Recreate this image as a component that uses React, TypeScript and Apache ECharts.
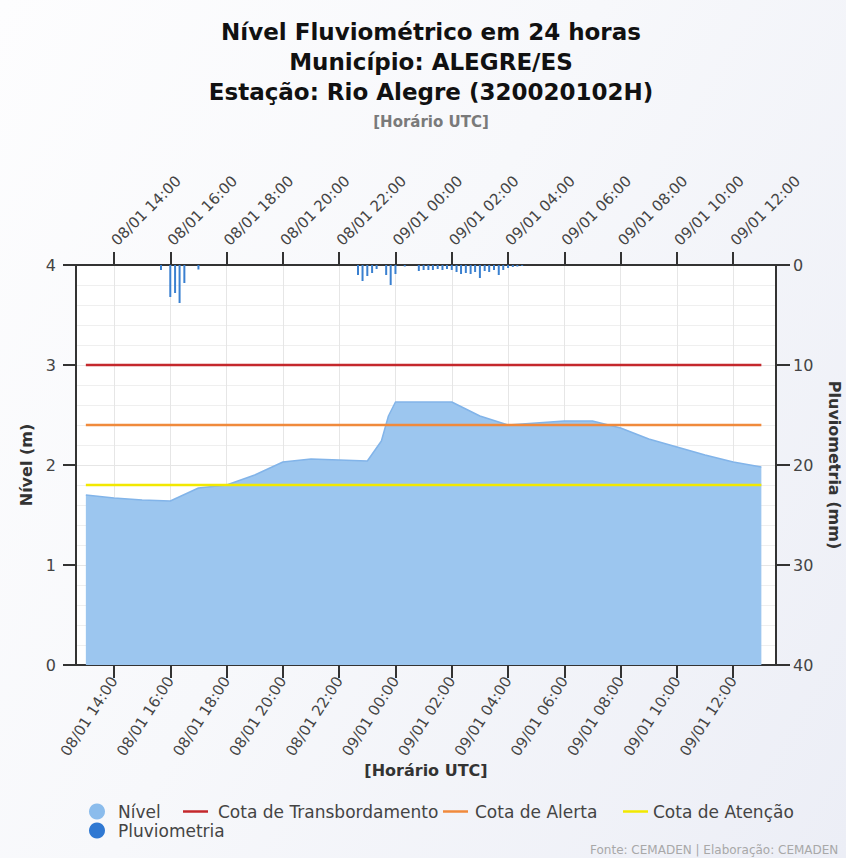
import React, { useEffect, useRef } from 'react';
import * as echarts from 'echarts';

// Time in hours counted from 08/01 00:00 (UTC)
const levelTimes = [13, 14, 15, 16, 17, 18, 19, 20, 21, 22, 23, 23.25, 23.5, 23.75, 24, 25, 26, 27, 28, 29, 30, 31, 32, 33, 34, 35, 36, 37];
const levelValues = [1.70, 1.67, 1.65, 1.64, 1.77, 1.80, 1.90, 2.03, 2.06, 2.05, 2.04, 2.14, 2.24, 2.49, 2.63, 2.63, 2.63, 2.49, 2.40, 2.42, 2.44, 2.44, 2.37, 2.26, 2.18, 2.10, 2.03, 1.98];

const rainTimes = [15.67, 16.0, 16.17, 16.33, 16.5, 17.0, 22.67, 22.83, 23.0, 23.17, 23.33, 23.67, 23.83, 24.0, 24.33, 24.83, 25.0, 25.17, 25.33, 25.5, 25.67, 25.83, 26.0, 26.17, 26.33, 26.5, 26.67, 26.83, 27.0, 27.17, 27.33, 27.5, 27.67, 27.83, 28.0, 28.17, 28.33, 28.5];
const rainValues = [0.5, 3.2, 2.8, 3.8, 1.8, 0.45, 1.0, 1.6, 1.1, 0.8, 0.4, 1.0, 2.0, 0.9, 0.15, 0.6, 0.5, 0.5, 0.5, 0.4, 0.5, 0.4, 0.5, 0.7, 0.9, 0.8, 0.9, 0.7, 1.3, 0.6, 0.7, 0.5, 1.0, 0.5, 0.3, 0.2, 0.15, 0.1];

const thresholdNames = ['Cota de Transbordamento', 'Cota de Alerta', 'Cota de Atenção'];
const thresholdValues = [3.0, 2.4, 1.8];
const thresholdColors = ['#c4282c', '#f08a3c', '#f2e800'];
const thresholdSpan = [13, 37];

const xTickHours = [14, 16, 18, 20, 22, 24, 26, 28, 30, 32, 34, 36];
const xMin = 12.65;
const xMax = 37.52;

const titleLines = ['Nível Fluviométrico em 24 horas', 'Município: ALEGRE/ES', 'Estação: Rio Alegre (320020102H)'];
const subTitle = '[Horário UTC]';
const xAxisTitle = '[Horário UTC]';
const footer = 'Fonte: CEMADEN | Elaboração: CEMADEN';

const FONT = 'DejaVu Sans';

function fmtHour(h: number): string {
  const day = h < 24 ? '08/01' : '09/01';
  const hh = Math.round(h % 24);
  return `${day} ${String(hh).padStart(2, '0')}:00`;
}

export default function App() {
  const ref = useRef<HTMLDivElement>(null);

  useEffect(() => {
    if (!ref.current) return;
    const chart = echarts.init(ref.current, undefined, { renderer: 'svg' });

    const xCommon = {
      type: 'value',
      min: xMin,
      max: xMax,
      axisLine: { show: true, onZero: false, lineStyle: { color: '#333', width: 2 } },
      axisTick: { show: true, length: 13, customValues: xTickHours, lineStyle: { color: '#333', width: 2 } },
    };
    const labelCommon = {
      customValues: xTickHours,
      fontSize: 15,
      fontFamily: FONT,
      color: '#444',
      formatter: (v: number) => fmtHour(v),
    };

    const legendText = { fontFamily: FONT, fontSize: 17, lineHeight: 17, color: '#444' };

    const option: any = {
      animation: false,
      backgroundColor: 'transparent',
      title: {
        text: titleLines.join('\n'),
        subtext: subTitle,
        left: 426,
        textAlign: 'center',
        top: 12,
        itemGap: 6,
        textStyle: { fontFamily: FONT, fontSize: 23, fontWeight: 'bold', color: '#111', lineHeight: 30 },
        subtextStyle: { fontFamily: FONT, fontSize: 15, fontWeight: 'bold', color: '#7a7a7a', lineHeight: 18 },
      },
      grid: {
        left: 76, right: 70, top: 265, bottom: 193,
        containLabel: false, outerBoundsMode: 'none',
        show: true, backgroundColor: '#ffffff', borderWidth: 0,
      },
      xAxis: [
        {
          ...xCommon,
          position: 'bottom',
          name: xAxisTitle,
          nameLocation: 'middle',
          nameGap: 93,
          nameTextStyle: { fontFamily: FONT, fontSize: 16, fontWeight: 'bold', color: '#333', verticalAlign: 'top' },
          axisLabel: { ...labelCommon, rotate: 57, margin: 13 },
          splitLine: { show: true, lineStyle: { color: '#e6e6e6', width: 1 } },
        },
        {
          ...xCommon,
          position: 'top',
          axisLabel: { ...labelCommon, rotate: -45, margin: 22 },
          splitLine: { show: false },
        },
      ],
      yAxis: [
        {
          type: 'value',
          min: 0,
          max: 4,
          interval: 1,
          position: 'left',
          name: 'Nível (m)',
          nameLocation: 'middle',
          nameGap: 42,
          nameTextStyle: { fontFamily: FONT, fontSize: 16, fontWeight: 'bold', color: '#333' },
          axisLine: { show: true, onZero: false, lineStyle: { color: '#333', width: 2 } },
          axisTick: { show: true, length: 13, lineStyle: { color: '#333', width: 2 } },
          axisLabel: { fontSize: 16, fontFamily: FONT, color: '#444', margin: 20 },
          splitLine: { show: true, lineStyle: { color: '#e6e6e6', width: 1 } },
          minorTick: { show: false, splitNumber: 5 },
          minorSplitLine: { show: true, lineStyle: { color: '#efefef', width: 1 } },
        },
        {
          type: 'value',
          min: 0,
          max: 40,
          interval: 10,
          inverse: true,
          position: 'right',
          name: 'Pluviometria (mm)',
          nameLocation: 'middle',
          nameRotate: -90,
          nameGap: 50,
          nameTextStyle: { fontFamily: FONT, fontSize: 16, fontWeight: 'bold', color: '#333' },
          axisLine: { show: true, onZero: false, lineStyle: { color: '#333', width: 2 } },
          axisTick: { show: true, length: 14, lineStyle: { color: '#333', width: 2 } },
          axisLabel: { fontSize: 16, fontFamily: FONT, color: '#444', margin: 17 },
          splitLine: { show: false },
        },
      ],
      legend: [
        {
          data: [{ name: 'Nível', icon: 'circle', itemStyle: { color: '#8bbcec' } }],
          left: 89, top: 803, padding: 0, itemWidth: 16, itemHeight: 16, selectedMode: false,
          textStyle: { ...legendText, padding: [0, 0, 0, 8] },
        },
        {
          data: [{ name: 'Pluviometria', icon: 'circle', itemStyle: { color: '#2f78d2' } }],
          left: 89, top: 822, padding: 0, itemWidth: 16, itemHeight: 16, selectedMode: false,
          textStyle: { ...legendText, padding: [0, 0, 0, 8] },
        },
        ...thresholdNames.map((n, i) => ({
          data: [{ name: n, icon: 'rect', itemStyle: { color: thresholdColors[i] } }],
          left: [183, 443, 623][i], top: 803, padding: 0, itemWidth: 25, itemHeight: 2.5, selectedMode: false,
          textStyle: { ...legendText, padding: [0, 0, 0, [5, 2, 0][i]] },
        })),
      ],
      graphic: [
        {
          type: 'text',
          left: 590,
          top: 844,
          style: { text: footer, fontFamily: FONT, fontSize: 12, fill: '#a8a8a8' },
        },
      ],
      series: [
        {
          name: 'Nível',
          type: 'line',
          xAxisIndex: 0,
          yAxisIndex: 0,
          data: levelTimes.map((t, i) => [t, levelValues[i]]),
          symbol: 'none',
          lineStyle: { color: '#82b4e9', width: 1.5 },
          itemStyle: { color: '#8bbcec' },
          areaStyle: { color: '#9cc6ef', opacity: 1 },
          z: 2,
        },
        {
          name: 'Pluviometria',
          type: 'bar',
          xAxisIndex: 0,
          yAxisIndex: 1,
          data: rainTimes.map((t, i) => [t, rainValues[i]]),
          barWidth: 2,
          itemStyle: { color: '#3a80d0' },
          z: 3,
        },
        ...thresholdNames.map((n, i) => ({
          name: n,
          type: 'line',
          xAxisIndex: 0,
          yAxisIndex: 0,
          data: thresholdSpan.map((t) => [t, thresholdValues[i]]),
          symbol: 'none',
          lineStyle: { color: thresholdColors[i], width: 2.5 },
          itemStyle: { color: thresholdColors[i] },
          z: 4,
        })),
      ],
    };

    chart.setOption(option);
    return () => chart.dispose();
  }, []);

  return (
    <div
      style={{
        position: 'fixed',
        left: 0,
        top: 0,
        width: 846,
        height: 858,
        background: 'linear-gradient(120deg, #fdfdfe 0%, #f7f8fb 45%, #eceef6 100%)',
      }}
    >
      <div ref={ref} style={{ width: 846, height: 858 }} />
    </div>
  );
}
